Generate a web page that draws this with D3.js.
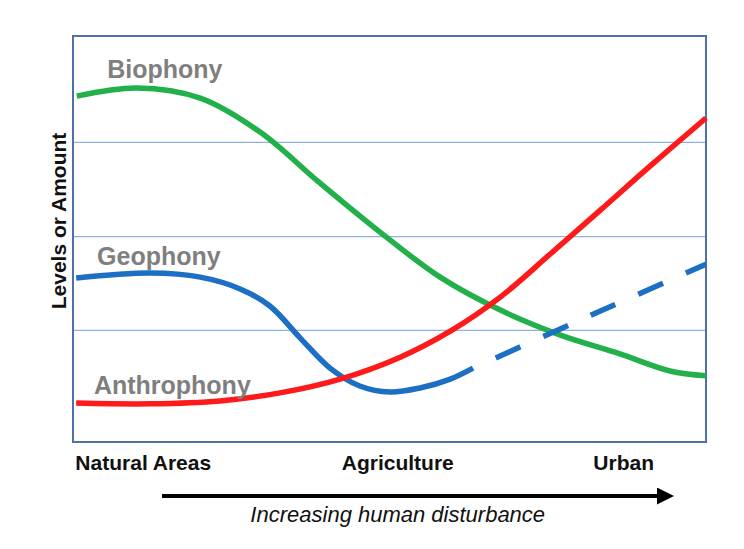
<!DOCTYPE html>
<html>
<head>
<meta charset="utf-8">
<script src="https://cdn.jsdelivr.net/npm/d3@7"></script>
<style>
  html, body { margin: 0; padding: 0; background: #fff; }
  svg { display: block; }
</style>
</head>
<body>
<svg id="chart" width="744" height="549"></svg>
<script>
// ---- Data (x: 0 = Natural Areas edge, 100 = Urban edge; y: 0..100 level) ----
const categories = ["Natural Areas", "Agriculture", "Urban"];
const categoryX = [11.1, 51.3, 87.0];
const gridLevels = [27.5, 50.6, 73.8];

const bioX = [0.6, 10.1, 20.1, 29.5, 39.0, 48.5, 58.0, 67.5, 76.9, 86.4, 94.3, 100];
const bioY = [85.2, 87.2, 84.7, 76.4, 63.8, 51.7, 40.6, 32.5, 26.4, 21.7, 17.5, 16.3];

const anthroX = [0.5, 12.2, 23.2, 32.7, 42.2, 51.7, 59.6, 67.5, 75.4, 83.3, 91.2, 100];
const anthroY = [9.6, 9.4, 10.1, 12.1, 15.5, 20.9, 27.3, 35.7, 46.3, 57.1, 68.0, 79.8];

const geoX = [0.5, 12.2, 20.1, 26.4, 31.1, 35.9, 40.6, 45.3, 50.1, 54.8, 59.6, 63.2];
const geoY = [40.4, 41.6, 40.6, 37.7, 33.5, 25.6, 18.2, 13.8, 12.3, 13.3, 15.5, 18.2];
const geoDashX = [63.2, 81.5, 100];
const geoDashY = [18.2, 31.0, 43.8];

const seriesLabels = ["Biophony", "Geophony", "Anthrophony"];
const seriesLabelPos = [[5.4, 89.7], [3.8, 43.6], [3.3, 11.8]];

const yTitle = "Levels or Amount";
const xTitle = "Increasing human disturbance";

// ---- Layout ----
const svg = d3.select("#chart");
const mLeft = 73, mRight = 706, mTop = 36, mBottom = 442;
const x = d3.scaleLinear().domain([0, 100]).range([mLeft, mRight]);
const y = d3.scaleLinear().domain([0, 100]).range([mBottom, mTop]);

const zip = (xs, ys) => xs.map((v, i) => [v, ys[i]]);

// gridlines
svg.append("g").selectAll("line").data(gridLevels).join("line")
  .attr("x1", x(0)).attr("x2", x(100))
  .attr("y1", d => y(d)).attr("y2", d => y(d))
  .attr("stroke", "#8fb1dd").attr("stroke-width", 1.2);

// frame
svg.append("rect")
  .attr("x", x(0)).attr("y", y(100))
  .attr("width", x(100) - x(0)).attr("height", y(0) - y(100))
  .attr("fill", "none").attr("stroke", "#4e71a6").attr("stroke-width", 2);

const line = d3.line().x(d => x(d[0])).y(d => y(d[1])).curve(d3.curveCatmullRom.alpha(0.5));

svg.append("path").datum(zip(bioX, bioY)).attr("d", line)
  .attr("fill", "none").attr("stroke", "#22b04b").attr("stroke-width", 5.5);

svg.append("path").datum(zip(geoX, geoY)).attr("d", line)
  .attr("fill", "none").attr("stroke", "#1d6fc3").attr("stroke-width", 5.5);

svg.append("path").datum(zip(geoDashX, geoDashY)).attr("d", line)
  .attr("fill", "none").attr("stroke", "#1d6fc3").attr("stroke-width", 5.5)
  .attr("stroke-dasharray", "27,25").attr("stroke-dashoffset", 27);

svg.append("path").datum(zip(anthroX, anthroY)).attr("d", line)
  .attr("fill", "none").attr("stroke", "#fe1a1a").attr("stroke-width", 5.5);

// series labels
svg.append("g").selectAll("text").data(seriesLabels).join("text")
  .attr("x", (d, i) => x(seriesLabelPos[i][0]))
  .attr("y", (d, i) => y(seriesLabelPos[i][1]))
  .attr("font-family", "'Liberation Sans', Arial, sans-serif")
  .attr("font-weight", "bold").attr("font-size", 25)
  .attr("fill", "#7f7f7f")
  .text(d => d);

// category labels
svg.append("g").selectAll("text").data(categories).join("text")
  .attr("x", (d, i) => x(categoryX[i]))
  .attr("y", 470)
  .attr("text-anchor", "middle")
  .attr("font-family", "'Liberation Sans', Arial, sans-serif")
  .attr("font-weight", "bold").attr("font-size", 21)
  .attr("fill", "#111")
  .text(d => d);

// y title
svg.append("text")
  .attr("transform", "translate(66,221) rotate(-90)")
  .attr("text-anchor", "middle")
  .attr("font-family", "'Liberation Sans', Arial, sans-serif")
  .attr("font-weight", "bold").attr("font-size", 21)
  .attr("fill", "#111")
  .text(yTitle);

// arrow
svg.append("defs").append("marker")
  .attr("id", "arrowhead")
  .attr("viewBox", "0 0 10 10").attr("refX", 0).attr("refY", 5)
  .attr("markerUnits", "userSpaceOnUse")
  .attr("markerWidth", 17).attr("markerHeight", 17)
  .attr("orient", "auto")
  .append("path").attr("d", "M0,0 L10,5 L0,10 Z").attr("fill", "#000");

svg.append("line")
  .attr("x1", 162).attr("x2", 657).attr("y1", 496).attr("y2", 496)
  .attr("stroke", "#000").attr("stroke-width", 4)
  .attr("marker-end", "url(#arrowhead)");

svg.append("text")
  .attr("x", x(51.3)).attr("y", 522)
  .attr("text-anchor", "middle")
  .attr("font-family", "'Liberation Sans', Arial, sans-serif")
  .attr("font-style", "italic").attr("font-size", 22)
  .attr("fill", "#111")
  .text(xTitle);
</script>
</body>
</html>
